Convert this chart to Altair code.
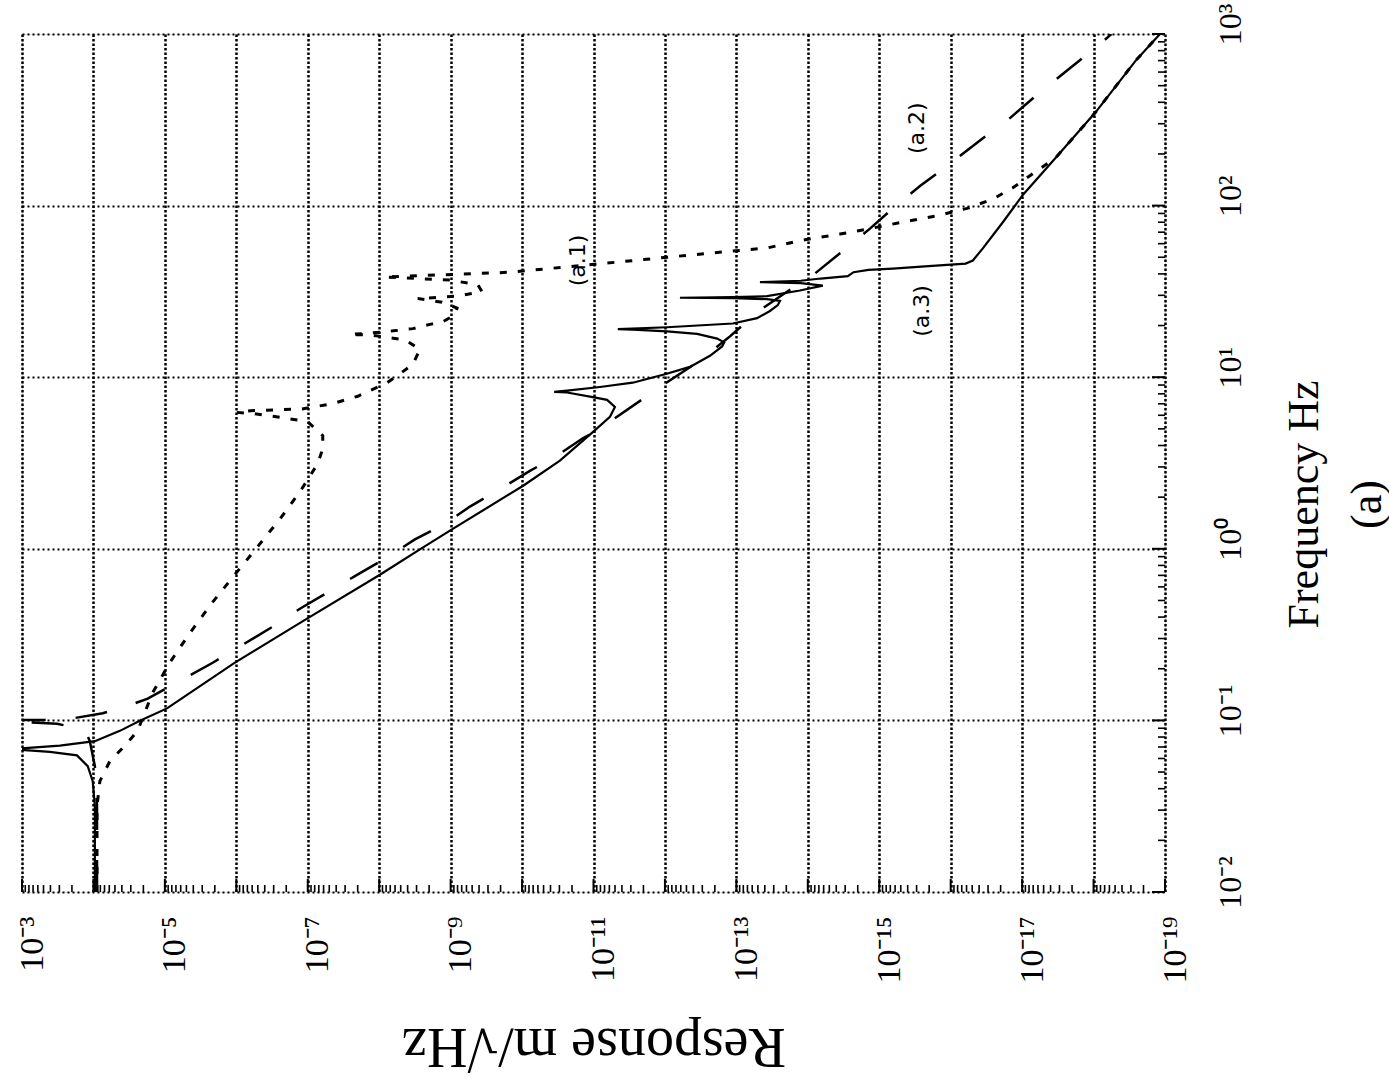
import altair as alt
import numpy as np
import pandas as pd

# ---------------- data (log10 of frequency in Hz, log10 of response in m/sqrt(Hz)) ----------------
# (a.3) solid curve
a3_logf = [-2.00, -1.50, -1.354, -1.267, -1.204, -1.183, -1.173, -1.168, -1.162, -1.147, -1.121,
           -1.061, -1.002, -0.930, -0.663, -0.407, -0.151, -0.003, 0.116, 0.366, 0.514, 0.680,
           0.769, 0.827, 0.868, 0.884, 0.911, 0.915, 0.922, 0.943, 0.968, 1.017, 1.060, 1.125,
           1.179, 1.203, 1.225, 1.252, 1.267, 1.277, 1.280, 1.291, 1.313, 1.344, 1.386, 1.420,
           1.445, 1.455, 1.460, 1.463, 1.467, 1.472, 1.505, 1.534, 1.548, 1.554, 1.562, 1.575,
           1.589, 1.612, 1.625, 1.633, 1.647, 1.662, 1.680, 1.751, 1.903, 2.062, 2.279, 2.545,
           2.845, 3.00]
a3_logr = [-4.02, -4.02, -3.99, -3.92, -3.77, -3.39, -3.04, -2.80, -3.04, -3.53, -4.02,
           -4.37, -4.65, -5.03, -5.98, -6.99, -8.01, -8.57, -9.03, -10.01, -10.53, -10.99,
           -11.23, -11.30, -11.19, -10.99, -10.63, -10.45, -10.63, -11.09, -11.55, -12.00, -12.35, -12.63,
           -12.80, -12.83, -12.73, -12.45, -12.03, -11.55, -11.34, -12.03, -12.95, -13.29, -13.47, -13.58,
           -13.61, -13.43, -12.95, -12.21, -12.95, -13.43, -13.89, -14.21, -13.90, -13.33, -13.90, -14.18,
           -14.56, -14.64, -14.85, -15.19, -15.69, -16.21, -16.31, -16.45, -16.73, -17.01, -17.47, -18.03,
           -18.59, -18.93]

# (a.2) dashed curve
a2_logf = [-2.00, -1.50, -1.267, -1.122, -1.052, -1.020, -1.010, -1.005, -0.998, -0.997, -0.989,
           -0.958, -0.915, -0.873, -0.754, -0.664, -0.569, -0.456, -0.349, -0.254, -0.159, -0.051,
           0.055, 0.145, 0.246, 0.347, 0.454, 0.543, 0.644, 0.680, 0.870, 0.971, 1.096, 1.238,
           1.391, 1.510, 1.581, 1.712, 1.866, 1.995, 2.114, 2.244, 2.380, 2.510, 2.646, 2.942, 3.00]
a2_logr = [-4.05, -4.05, -4.02, -3.95, -3.88, -3.49, -3.04, -2.80, -3.04, -3.32, -3.70,
           -4.13, -4.48, -4.76, -5.28, -5.67, -6.05, -6.50, -6.89, -7.28, -7.66, -8.11,
           -8.50, -8.92, -9.27, -9.69, -10.11, -10.49, -10.85, -11.02, -11.68, -12.03, -12.49, -12.91,
           -13.33, -13.75, -14.03, -14.42, -14.87, -15.22, -15.57, -15.99, -16.41, -16.83, -17.21, -18.09, -18.25]

# (a.1) dotted curve
a1_logf = [-2.00, -1.50, -1.354, -1.237, -1.148, -1.060, -0.984, -0.838, -0.662, -0.491, -0.315,
           -0.150, 0.008, 0.173, 0.332, 0.496, 0.584, 0.659, 0.740, 0.767, 0.788, 0.795, 0.805,
           0.815, 0.846, 0.889, 0.967, 1.074, 1.162, 1.218, 1.245, 1.249, 1.258, 1.270, 1.283,
           1.308, 1.321, 1.363, 1.403, 1.437, 1.458, 1.473, 1.498, 1.539, 1.566, 1.584, 1.611,
           1.632, 1.665, 1.699, 1.732, 1.753, 1.796, 1.834, 1.866, 1.909, 1.941, 1.984, 2.038,
           2.104, 2.279, 2.545, 2.845, 3.00]
a1_logr = [-4.05, -4.05, -4.09, -4.23, -4.44, -4.62, -4.69, -4.83, -5.07, -5.35, -5.66,
           -5.98, -6.29, -6.61, -6.89, -7.14, -7.21, -7.21, -7.00, -6.61, -6.23, -6.01, -6.20,
           -6.92, -7.35, -7.70, -8.11, -8.47, -8.57, -8.36, -7.90, -7.59, -7.90, -8.20, -8.47,
           -8.71, -8.88, -9.06, -9.09, -8.88, -8.54, -9.10, -9.44, -9.38, -8.99, -8.08, -9.79,
           -10.35, -11.19, -12.03, -12.87, -13.43, -13.89, -14.45, -14.87, -15.39, -15.81, -16.23, -16.59,
           -16.87, -17.47, -18.03, -18.59, -18.93]

# curve annotations
note_text = ["(a.1)", "(a.2)", "(a.3)"]
note_logf = [1.68, 2.451, 1.386]
note_logr = [-10.78, -15.53, -15.60]

# axis decades and labels
resp_exps = list(range(-19, -2))          # 10^-19 ... 10^-3
resp_labels = {-3: "10⁻³", -5: "10⁻⁵", -7: "10⁻⁷", -9: "10⁻⁹", -11: "10⁻¹¹",
               -13: "10⁻¹³", -15: "10⁻¹⁵", -17: "10⁻¹⁷", -19: "10⁻¹⁹"}
freq_exps = [-2, -1, 0, 1, 2, 3]
freq_labels = {-2: "10⁻²", -1: "10⁻¹", 0: "10⁰", 1: "10¹", 2: "10²", 3: "10³"}
minor_mult = [2, 3, 4, 5, 6, 7, 8, 9]

# ---------------- tables ----------------
def curve(name, lf, lr):
    return pd.DataFrame({"curve": name, "i": np.arange(len(lf)),
                         "freq": np.power(10.0, np.array(lf)),
                         "resp": np.power(10.0, np.array(lr))})

a1 = curve("a.1", a1_logf, a1_logr)
a2 = curve("a.2", a2_logf, a2_logr)
a3 = curve("a.3", a3_logf, a3_logr)
notes = pd.DataFrame({"t": note_text, "freq": np.power(10.0, note_logf),
                      "resp": np.power(10.0, note_logr)})

resp_major = pd.DataFrame({"resp": [10.0 ** e for e in resp_exps]})
resp_minor = pd.DataFrame({"resp": [m * 10.0 ** e for e in resp_exps[:-1] for m in minor_mult]})
freq_major = pd.DataFrame({"freq": [10.0 ** e for e in freq_exps]})
freq_minor = pd.DataFrame({"freq": [m * 10.0 ** e for e in freq_exps[:-1] for m in minor_mult]})


def label_expr(mapping):
    expr = "''"
    for e, s in mapping.items():
        expr = f"abs(log(datum.value)/LN10 - ({e})) < 0.01 ? '{s}' : ({expr})"
    return expr


W, H = 1143, 858
SERIF = "Liberation Serif"

xscale = alt.Scale(type="log", domain=[1e-19, 1e-3], reverse=True)
yscale = alt.Scale(type="log", domain=[1e-2, 1e3])

xaxis = alt.Axis(values=[10.0 ** e for e in resp_exps], labelExpr=label_expr(resp_labels),
                 labelAngle=270, labelAlign="right", labelBaseline="middle",
                 labelFont=SERIF, labelFontSize=34, labelColor="black", labelPadding=24,
                 labelOffset=10, labelOverlap=False, labelFlush=False, labelBound=False,
                 ticks=False, domain=False, grid=True, gridColor="black", gridDash=[2.5, 2],
                 gridWidth=2.5, gridOpacity=1,
                 title="Response m/√Hz", titleFont=SERIF, titleFontSize=56,
                 titleFontWeight="normal", titleColor="black", titleAngle=180,
                 titleBaseline="middle", titleAlign="center", titleY=153)

yaxis = alt.Axis(orient="right", values=[10.0 ** e for e in freq_exps],
                 labelExpr=label_expr(freq_labels),
                 labelAngle=270, labelAlign="center", labelBaseline="top",
                 labelFont=SERIF, labelFontSize=32, labelColor="black", labelPadding=50,
                 labelOffset=-10, labelOverlap=False, labelFlush=False, labelBound=False,
                 ticks=False, domain=False, grid=True, gridColor="black", gridDash=[2, 3],
                 gridWidth=2, gridOpacity=1,
                 title=["Frequency Hz", "(a)"], titleFont=SERIF, titleFontSize=44,
                 titleFontWeight="normal", titleColor="black", titleAngle=270,
                 titleAlign="center", titleBaseline="middle", titleX=139, titleY=470,
                 titleLineHeight=63)

X = alt.X("resp:Q", scale=xscale, axis=xaxis)
Y = alt.Y("freq:Q", scale=yscale, axis=yaxis)

line_a1 = alt.Chart(a1).mark_line(color="black", strokeWidth=3, strokeDash=[7, 11], clip=True).encode(
    x=X, y=Y, order="i:Q")
line_a2 = alt.Chart(a2).mark_line(color="black", strokeWidth=2.5, strokeDash=[32, 30], clip=True).encode(
    x=X, y=Y, order="i:Q")
line_a3 = alt.Chart(a3).mark_line(color="black", strokeWidth=2.2, clip=True).encode(
    x=X, y=Y, order="i:Q")

tick_b_major = alt.Chart(resp_major).mark_rule(color="black", strokeWidth=2).encode(
    x=X, y=alt.value(H), y2=alt.value(H - 13))
tick_b_minor = alt.Chart(resp_minor).mark_rule(color="black", strokeWidth=1.6).encode(
    x=X, y=alt.value(H), y2=alt.value(H - 7))
tick_r_major = alt.Chart(freq_major).mark_rule(color="black", strokeWidth=2).encode(
    y=Y, x=alt.value(W), x2=alt.value(W - 13))
tick_r_minor = alt.Chart(freq_minor).mark_rule(color="black", strokeWidth=1.6).encode(
    y=Y, x=alt.value(W), x2=alt.value(W - 7))

note_layer = alt.Chart(notes).mark_text(angle=270, font="DejaVu Sans", fontSize=22, color="black",
                                        align="center", baseline="middle").encode(
    x=X, y=Y, text="t:N")

chart = alt.layer(line_a1, line_a2, line_a3, tick_b_major, tick_b_minor, tick_r_major,
                  tick_r_minor, note_layer).properties(
    width=W, height=H,
    padding={"left": 22, "top": 34, "right": 224, "bottom": 192},
    autosize=alt.AutoSizeParams(type="none"),
).configure_view(stroke="black", strokeWidth=2.5).configure(background="white")

chart.save("out.html", embed_options={"renderer": "svg", "actions": False})
